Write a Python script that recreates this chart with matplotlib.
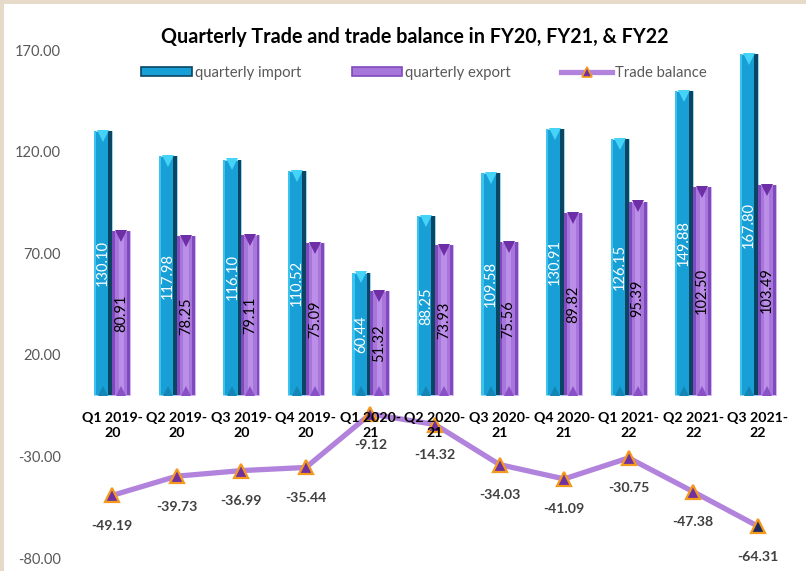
import numpy as np
import matplotlib
matplotlib.use("Agg")
import matplotlib.pyplot as plt
from matplotlib.patches import Rectangle, Patch
from matplotlib.lines import Line2D
from matplotlib.transforms import offset_copy

plt.rcParams["font.family"] = ["Lato", "DejaVu Sans"]

quarters = ["Q1 2019-\n20", "Q2 2019-\n20", "Q3 2019-\n20", "Q4 2019-\n20",
            "Q1 2020-\n21", "Q2 2020-\n21", "Q3 2020-\n21", "Q4 2020-\n21",
            "Q1 2021-\n22", "Q2 2021-\n22", "Q3 2021-\n22"]
imports = [130.10, 117.98, 116.10, 110.52, 60.44, 88.25, 109.58, 130.91, 126.15, 149.88, 167.80]
exports = [80.91, 78.25, 79.11, 75.09, 51.32, 73.93, 75.56, 89.82, 95.39, 102.50, 103.49]
balance = [-49.19, -39.73, -36.99, -35.44, -9.12, -14.32, -34.03, -41.09, -30.75, -47.38, -64.31]
yticks = [170, 120, 70, 20, -30, -80]

IMP, IMP_DK, IMP_LT = "#179fd6", "#0a4563", "#3cc4f0"
EXP, EXP_DK, EXP_LT = "#a676db", "#8049bd", "#bb8ee8"
LINE = "#b283dc"

fig = plt.figure(figsize=(8.06, 5.71), dpi=100, facecolor="#e6dbc9")
fig.patches.append(Rectangle((4 / 806, 0), 1, 1 - 4 / 571, transform=fig.transFigure,
                             facecolor="white", edgecolor="none", zorder=-5))
ax = fig.add_axes([80 / 806, 1 - 558 / 571, 710 / 806, 508 / 571])
ax.set_facecolor("none")

x = np.arange(len(quarters))
bw = 0.28
xi, xe = x - bw / 2, x + bw / 2

# import bars: body + lit left edge + shaded right edge
ax.bar(xi, imports, bw, color=IMP, edgecolor="#9fd8ee", lw=0.6, zorder=2)
ax.bar(xi - bw / 2, imports, bw * 0.12, align="edge", color=IMP_LT, lw=0, zorder=2)
ax.bar(xi + bw * 0.29, imports, bw * 0.21, align="edge", color=IMP_DK, lw=0, zorder=2)
# export bars: lighter centre, darker sides
ax.bar(xe, exports, bw, color=EXP, edgecolor="#d2b8ee", lw=0.6, zorder=2)
ax.bar(xe - bw / 2, exports, bw * 0.16, align="edge", color=EXP_DK, lw=0, zorder=2)
ax.bar(xe + bw * 0.34, exports, bw * 0.16, align="edge", color=EXP_DK, lw=0, zorder=2)
ax.bar(xe, exports, bw * 0.3, color=EXP_LT, lw=0, zorder=2)

down = offset_copy(ax.transData, fig=fig, x=0, y=-3.5, units="points")
up = offset_copy(ax.transData, fig=fig, x=0, y=3, units="points")
ax.plot(xi, imports, "v", ms=8, color="#45d3f7", mew=0, transform=down, zorder=3)
ax.plot(xe, exports, "v", ms=8, color="#6e2fa6", mew=0, transform=down, zorder=3)
ax.plot(xi, [0] * len(x), "^", ms=7, color="#1485b5", mew=0, transform=up, zorder=3)
ax.plot(xe, [0] * len(x), "^", ms=7, color="#8a50c6", mew=0, transform=up, zorder=3)

for xx, v in zip(xi, imports):
    ax.text(xx, v / 2, f"{v:.2f}", rotation=90, ha="center", va="center",
            color="white", fontsize=10.5, zorder=4)
for xx, v in zip(xe, exports):
    ax.text(xx, v / 2, f"{v:.2f}", rotation=90, ha="center", va="center",
            color="black", fontsize=10.5, zorder=4)

# trade balance line
ax.plot(x, balance, color=LINE, lw=3.8, zorder=5, solid_capstyle="round")
mfc = ["#7030a0"] * (len(x) - 1) + ["#1c2a5e"]
for xx, v, fc in zip(x, balance, mfc):
    ax.plot(xx, v, "^", ms=10, mfc=fc, mec="#f39a1e", mew=1.6, zorder=6)
    ax.annotate(f"{v:.2f}", (xx, v), xytext=(0, -22), textcoords="offset points",
                ha="center", va="center", fontsize=10.2, fontweight="bold",
                color="#404040", zorder=7)

# category labels sit just under the zero line
for xx, q in zip(x, quarters):
    ax.annotate(q, (xx, 0), xytext=(0, -12), textcoords="offset points",
                ha="center", va="top", fontsize=10.2, fontweight="bold",
                color="black", linespacing=1.3, zorder=8)

ax.set_xlim(-0.5, len(x) - 0.5)
ax.set_ylim(-80, 170)
ax.set_yticks(yticks)
ax.set_yticklabels([f"{t:.2f}" for t in yticks], color="#595959", fontsize=10.5)
ax.set_xticks([])
ax.tick_params(axis="y", length=0, pad=14)
for s in ax.spines.values():
    s.set_visible(False)

fig.text(415 / 806, 1 - 37 / 571, "Quarterly Trade and trade balance in FY20, FY21, & FY22",
         ha="center", va="center", fontsize=14.2, fontweight="bold", color="black")

handles = [Patch(facecolor=IMP, edgecolor=IMP_DK, lw=1.2),
           Patch(facecolor=EXP, edgecolor=EXP_DK, lw=1.2),
           Line2D([0], [0], color=LINE, lw=3.8, marker="^", ms=7, mfc="#7030a0",
                  mec="#f39a1e", mew=1.2)]
fig.legend(handles, ["quarterly import", "quarterly export", "Trade balance"],
           loc="center", bbox_to_anchor=(424 / 806, 1 - 73 / 571), ncol=3, frameon=False,
           fontsize=10.7, labelcolor="#595959", handlelength=3.4, handleheight=0.5,
           columnspacing=3.4, handletextpad=0.2)

fig.savefig("out.png", dpi=100, facecolor=fig.get_facecolor())
